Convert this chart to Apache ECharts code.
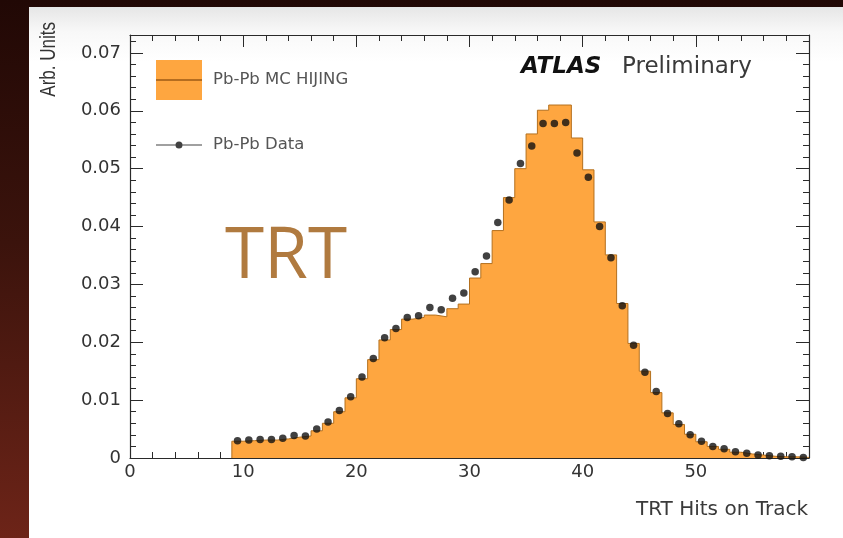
<!DOCTYPE html>
<html>
<head>
<meta charset="utf-8">
<script src="https://cdn.jsdelivr.net/npm/echarts@6/dist/echarts.min.js"></script>
<style>
html,body{margin:0;padding:0;width:843px;height:538px;overflow:hidden;}
#frame{position:absolute;left:0;top:0;width:843px;height:538px;background:linear-gradient(180deg,#210805 0%,#3b130c 45%,#6d2418 100%);}
#panel{position:absolute;left:29px;top:7px;right:0;bottom:0;background:linear-gradient(180deg,#e6e6e6 0px,#f8f8f8 25px,#ffffff 55px);}
#chart{position:absolute;left:0;top:0;width:843px;height:538px;}
</style>
</head>
<body>
<div id="frame"></div>
<div id="panel"></div>
<div id="chart"></div>
<script>
// TRT hits per track, lower edge of each 1-hit bin
const hitBins = [9,10,11,12,13,14,15,16,17,18,19,20,21,22,23,24,25,26,27,28,29,
  30,31,32,33,34,35,36,37,38,39,40,41,42,43,44,45,46,47,48,49,50,51,52,53,54,55,56,57,58,59];

// Pb-Pb MC HIJING (histogram)
const mcValues = [0.0029,0.0030,0.0031,0.0031,0.0033,0.0036,0.0038,0.0047,0.0060,0.0080,0.0104,
  0.0137,0.0170,0.0204,0.0222,0.0240,0.0243,0.0247,0.0244,0.0258,0.0266,
  0.0311,0.0336,0.0393,0.0450,0.0500,0.0560,0.0601,0.0610,0.0610,0.0553,
  0.0498,0.0408,0.0351,0.0267,0.0198,0.0150,0.0113,0.0078,0.0058,0.0041,
  0.0028,0.0020,0.0015,0.0010,0.0007,0.0005,0.0003,0.0002,0.0002,0.0001];

// Pb-Pb Data (points)
const dataValues = [0.0030,0.0031,0.0032,0.0032,0.0034,0.0039,0.0038,0.0050,0.0062,0.0082,0.0106,
  0.0140,0.0172,0.0208,0.0224,0.0243,0.0246,0.0260,0.0256,0.0276,0.0285,
  0.0322,0.0349,0.0407,0.0446,0.0509,0.0539,0.0578,0.0578,0.0580,0.0527,
  0.0485,0.0400,0.0346,0.0263,0.0195,0.0148,0.0115,0.0077,0.0059,0.0040,
  0.0029,0.0020,0.0016,0.0011,0.0008,0.0005,0.0004,0.0003,0.0002,0.0001];

const xMin = 0, xMax = 60, xStep = 10;
const yMin = 0, yMax = 0.0731, yStep = 0.01;

// histogram outline: start at 0, step across each bin, drop back to 0
const last = hitBins.length - 1;
const mcSteps = [[hitBins[0], 0]];
hitBins.forEach((b, i) => mcSteps.push([b, mcValues[i]]));
mcSteps.push([hitBins[last] + 1, mcValues[last]]);
mcSteps.push([hitBins[last] + 1, 0]);

const dataPoints = hitBins.map((b, i) => [b + 0.5, dataValues[i]]);

const tickFont = 'DejaVu Sans';
const axisCol = '#2a2a2a';

function yLabel(v) {
  const r = Math.round(v * 100);
  if (Math.abs(v * 100 - r) > 1e-6) return '';
  return r === 0 ? '0' : (r / 100).toFixed(2);
}

function xAxisOf(pos, labels) {
  return {
    type: 'value', min: xMin, max: xMax, interval: xStep, position: pos,
    axisLine: { show: true, onZero: false, lineStyle: { color: axisCol, width: 1.2 } },
    axisTick: { show: true, inside: true, length: 12, lineStyle: { color: axisCol } },
    minorTick: { show: true, splitNumber: 5, length: 6, lineStyle: { color: axisCol } },
    splitLine: { show: false },
    axisLabel: {
      show: labels, margin: 5, color: '#333', fontFamily: tickFont, fontSize: 18,
      formatter: v => (v === xMax ? '' : String(v))
    }
  };
}

function yAxisOf(pos, labels) {
  return {
    type: 'value', min: yMin, max: yMax, interval: yStep, position: pos,
    axisLine: { show: true, onZero: false, lineStyle: { color: axisCol, width: 1.2 } },
    axisTick: { show: true, inside: true, length: 13, lineStyle: { color: axisCol } },
    minorTick: { show: true, splitNumber: 5, length: 6, lineStyle: { color: axisCol } },
    splitLine: { show: false },
    axisLabel: {
      show: labels, margin: 9, color: '#333', fontFamily: tickFont, fontSize: 18,
      showMaxLabel: false, formatter: yLabel
    }
  };
}

let chart = echarts.init(document.getElementById('chart'));
let option = {
  backgroundColor: 'transparent',
  animation: false,
  grid: { left: 130, right: 34, top: 35, bottom: 80 },
  xAxis: [xAxisOf('bottom', true), xAxisOf('top', false)],
  yAxis: [yAxisOf('left', true), yAxisOf('right', false)],
  legend: [
    {
      data: [{ name: 'Pb-Pb MC HIJING', icon: 'rect', itemStyle: { color: '#fea640', borderWidth: 0 } }],
      left: 156, top: 60, padding: 0, itemWidth: 46, itemHeight: 40, selectedMode: false,
      textStyle: { fontFamily: tickFont, fontSize: 16.5, color: '#555', padding: [0, 0, 0, 6] }
    },
    {
      data: [{ name: 'Pb-Pb Data',
        icon: 'path://M0,3.4h46v1.2h-46z M19.5,4a3.5,3.5 0 1,1 7,0a3.5,3.5 0 1,1 -7,0',
        itemStyle: { color: '#111' } }],
      left: 156, top: 136.5, padding: 0, itemWidth: 46, itemHeight: 7, selectedMode: false,
      textStyle: { fontFamily: tickFont, fontSize: 16.5, color: '#555', padding: [0, 0, 0, 6] }
    }
  ],
  graphic: [
    // centre line of the MC legend box
    { type: 'line', shape: { x1: 156, y1: 80, x2: 202, y2: 80 }, style: { stroke: '#9c5a14', lineWidth: 1.5 }, z: 100 },
    { type: 'text', x: 49, y: 22, rotation: Math.PI / 2, scaleY: 1.3,
      style: { text: 'Arb. Units', align: 'right', verticalAlign: 'middle', font: '17px "Liberation Sans"', fill: '#333' } },
    { type: 'text', x: 808, y: 510,
      style: { text: 'TRT Hits on Track', align: 'right', verticalAlign: 'middle', font: '20px "DejaVu Sans"', fill: '#3a3a3a' } },
    { type: 'text', x: 521, y: 67,
      style: { text: 'ATLAS', align: 'left', verticalAlign: 'middle', font: 'italic bold 23px "DejaVu Sans"', fill: '#111' } },
    { type: 'text', x: 622, y: 67,
      style: { text: 'Preliminary', align: 'left', verticalAlign: 'middle', font: '23px "DejaVu Sans"', fill: '#3a3a3a' } },
    { type: 'text', x: 225, y: 257.5, z: 100,
      style: { text: 'TRT', align: 'left', verticalAlign: 'middle', font: '71px "Open Sans"', fill: '#b07a3f' } }
  ],
  series: [
    {
      name: 'Pb-Pb MC HIJING',
      type: 'line',
      step: 'end',
      data: mcSteps,
      symbol: 'none',
      lineStyle: { color: '#b4701e', width: 1 },
      itemStyle: { color: '#fea640' },
      areaStyle: { color: '#fea640', opacity: 1 },
      z: 2
    },
    {
      name: 'Pb-Pb Data',
      type: 'scatter',
      data: dataPoints,
      symbolSize: 7.5,
      itemStyle: { color: '#111' },
      z: 3
    }
  ]
};
chart.setOption(option);
</script>
</body>
</html>
